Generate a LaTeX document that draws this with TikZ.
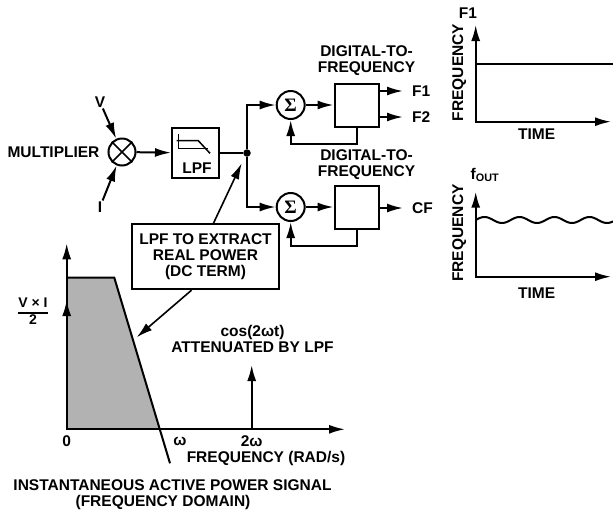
\documentclass[tikz,border=0pt]{standalone}
\usepackage{fontspec}
\setmainfont{Liberation Sans}
\newfontfamily\sigmafont{Liberation Serif}
\usetikzlibrary{arrows.meta}
\setlength{\arrayrulewidth}{1.3pt}
\pgfdeclarelayer{edgelayer}
\pgfdeclarelayer{nodelayer}
\pgfsetlayers{edgelayer,nodelayer,main}
\tikzstyle{tag}=[inner sep=1pt,font=\bfseries\fontsize{15.5}{16}\selectfont]
\tikzstyle{block}=[draw=black,line width=2pt,minimum width=44pt,minimum height=43pt,inner sep=0pt]
\tikzstyle{adder}=[circle,draw=black,line width=2pt,minimum size=28pt,inner sep=0pt,font=\sigmafont\bfseries\fontsize{19}{19}\selectfont]
\tikzstyle{mixer}=[circle,draw=black,line width=2pt,minimum size=27pt,inner sep=0pt]
\tikzstyle{joint}=[circle,fill=black,minimum size=7.5pt,inner sep=0pt]
\tikzstyle{wire}=[draw=black,line width=2pt]
\tikzstyle{signal}=[-{Latex[length=16pt,width=9pt]},draw=black,line width=2pt]
\tikzstyle{axes}=[{Latex[length=16pt,width=9pt]}-{Latex[length=16pt,width=9pt]},draw=black,line width=2pt]

\begin{document}
\begin{tikzpicture}[x=1pt,y=-1pt]
	\useasboundingbox (0,0) rectangle (613,515);
	\begin{pgfonlayer}{nodelayer}
		\node [style=mixer] (mult) at (122,152) {};
		\node [style=tag] (multtext) at (53.5,152) {MULTIPLIER};
		\node [style=tag] (vin) at (100,102) {V};
		\node [style=tag] (iin) at (100,207) {I};
		\node [style=block,minimum width=47pt,minimum height=50pt] (lpf) at (195.5,153) {};
		\node [style=tag] (lpftext) at (197,168) {LPF};
		\node [style=joint] (split) at (247,153) {};
		\node [style=adder] (sum1) at (290.7,105) {Σ};
		\node [style=adder] (sum2) at (290.7,207) {Σ};
		\node [style=block] (dtf1) at (356.5,105) {};
		\node [style=block] (dtf2) at (356.5,207) {};
		\node [style=tag,align=center] (dtf1text) at (366.5,61) {DIGITAL-TO-\\FREQUENCY};
		\node [style=tag,align=center] (dtf2text) at (366.5,165) {DIGITAL-TO-\\FREQUENCY};
		\node [style=tag,anchor=west] (f1) at (411,91) {F1};
		\node [style=tag,anchor=west] (f2) at (411,117) {F2};
		\node [style=tag,anchor=west] (cf) at (411,208) {CF};
		\node [style=tag,draw=black,line width=2pt,align=center,minimum width=147pt,minimum height=65pt] (note) at (205.5,256.7) {LPF TO EXTRACT\\REAL POWER\\(DC TERM)};
		\node [style=tag] (f1axis) at (468,13) {F1};
		\node [style=tag,rotate=90] (freq1) at (459.3,72.5) {FREQUENCY};
		\node [style=tag] (time1) at (536.7,134) {TIME};
		\node [style=tag] (fout) at (485,175) {f\textsubscript{OUT}};
		\node [style=tag,rotate=90] (freq2) at (459.3,233) {FREQUENCY};
		\node [style=tag] (time2) at (536.7,293) {TIME};
		\node [style=tag,font=\bfseries\fontsize{14}{15}\selectfont] (vi) at (33,313) {\begin{tabular}{@{}c@{}}V × I\\\hline 2\end{tabular}};
		\node [style=tag] (zero) at (66.7,441) {0};
		\node [style=tag] (w1) at (180,441) {ω};
		\node [style=tag] (w2) at (251.7,441) {2ω};
		\node [style=tag] (faxis) at (266,458.5) {FREQUENCY (RAD/s)};
		\node [style=tag,align=center] (cosnote) at (252.5,339) {cos(2ωt)\\ATTENUATED BY LPF};
		\node [style=tag] (title1) at (172.5,485.5) {INSTANTANEOUS ACTIVE POWER SIGNAL};
		\node [style=tag] (title2) at (163,502.5) {(FREQUENCY DOMAIN)};
		\coordinate (tip1) at (241.7,163.3);
		\coordinate (tip2) at (136.7,337.3);
		\coordinate (top1) at (475.7,25);
		\coordinate (org1) at (475.7,121.7);
		\coordinate (end1) at (611,121.7);
		\coordinate (top2) at (475.7,191.7);
		\coordinate (org2) at (475.7,276.7);
		\coordinate (end2) at (611,276.7);
		\coordinate (top3) at (66.7,243.3);
		\coordinate (org3) at (66.7,429.3);
		\coordinate (end3) at (345,429.3);
		\coordinate (dc) at (66.7,300);
		\coordinate (base2w) at (251.7,429.3);
		\coordinate (peak2w) at (251.7,365);
		\coordinate (corner1) at (66.7,277.7);
		\coordinate (corner2) at (114.3,277.7);
		\coordinate (cross) at (159.8,429.3);
		\coordinate (slopeend) at (170,463.3);
	\end{pgfonlayer}
	\begin{pgfonlayer}{edgelayer}
		\draw [style=signal] (vin) to (mult);
		\draw [style=signal] (iin) to (mult);
		\draw [style=wire,line width=1.6pt] (mult.north west) to (mult.south east);
		\draw [style=wire,line width=1.6pt] (mult.south west) to (mult.north east);
		\draw [style=signal] (mult) to (lpf);
		\draw [style=wire,line width=1.5pt] (178.3,134) -- (178.3,148.3) -- (208.3,148.3);
		\draw [style=wire,line width=1.5pt] (176.7,140.7) -- (198.3,140.7) -- (210,153.3);
		\draw [style=wire] (lpf) to (split);
		\draw [style=signal] (split) |- (sum1);
		\draw [style=signal] (split) |- (sum2);
		\draw [style=signal] (sum1) to (dtf1);
		\draw [style=signal] (sum2) to (dtf2);
		\draw [style=signal] (dtf1.east |- f1) to ([xshift=-8pt]f1.west);
		\draw [style=signal] (dtf1.east |- f2) to ([xshift=-8pt]f2.west);
		\draw [style=signal] (dtf2.east |- cf) to ([xshift=-8pt]cf.west);
		\draw [style=signal] (dtf1.south) -- ++(0,16) -| (sum1.south);
		\draw [style=signal] (dtf2.south) -- ++(0,16) -| (sum2.south);
		\draw [style=signal,line width=1.6pt] ([xshift=8pt]note.north) to (tip1);
		\draw [style=signal,line width=1.6pt] ([xshift=-14pt]note.south) to (tip2);
		\draw [style=axes] (top1) -- (org1) -- (end1);
		\draw [style=wire] (475.7,64.3) -- (613,64.3);
		\draw [style=axes] (top2) -- (org2) -- (end2);
		\draw [style=wire] plot [domain=0:137.3,samples=140,smooth] ({475.7+\x},{220-3*sin(\x*10.2857)});
		\fill [black!30] (corner1) -- (corner2) -- (cross) -- (org3) -- cycle;
		\draw [style=wire] (corner1) -- (corner2) -- (slopeend);
		\draw [style=axes] (top3) -- (org3) -- (end3);
		\draw [style=signal] (org3) to (dc);
		\draw [style=signal] (base2w) to (peak2w);
	\end{pgfonlayer}
\end{tikzpicture}
\end{document}
